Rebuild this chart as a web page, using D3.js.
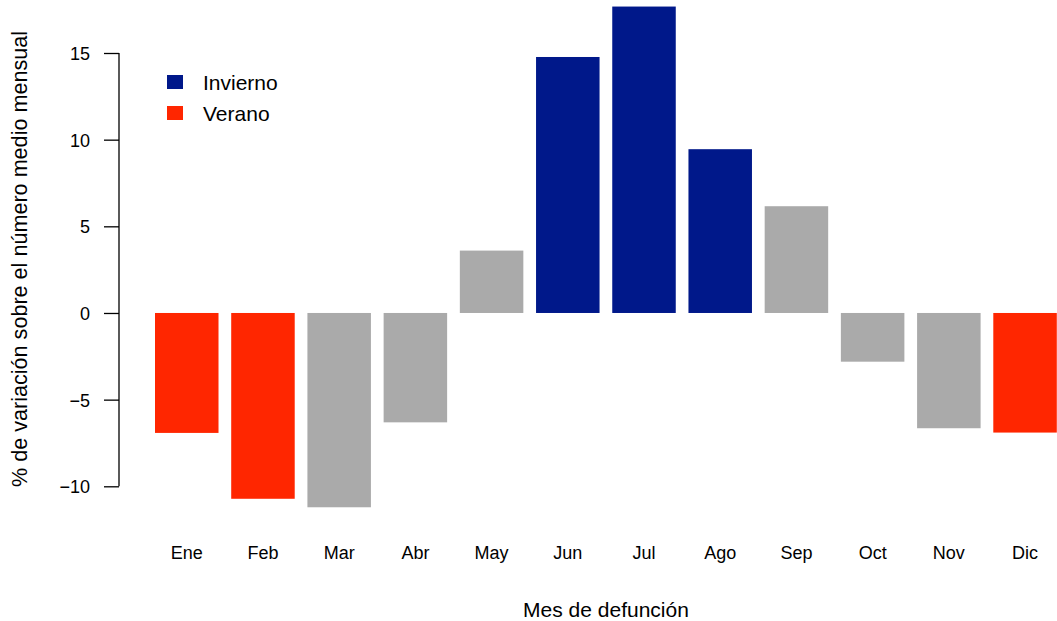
<!DOCTYPE html>
<html>
<head>
<meta charset="utf-8">
<script src="https://cdn.jsdelivr.net/npm/d3@7/dist/d3.min.js"></script>
<style>
  html, body { margin: 0; padding: 0; background: #fff; }
  svg { display: block; font-family: "Liberation Sans", Arial, Helvetica, sans-serif; }
</style>
</head>
<body>
<svg id="chart" width="1057" height="621"></svg>
<script>
const months = ["Ene","Feb","Mar","Abr","May","Jun","Jul","Ago","Sep","Oct","Nov","Dic"];
const values = [-6.92, -10.72, -11.21, -6.31, 3.6, 14.77, 17.68, 9.45, 6.16, -2.81, -6.65, -6.9];
const seasons = ["Verano","Verano","","","","Invierno","Invierno","Invierno","","","","Verano"];
const yTicks = [-10, -5, 0, 5, 10, 15];
const legendLabels = ["Invierno", "Verano"];
const seasonColors = { "Invierno": "#00188A", "Verano": "#FF2600", "": "#AAAAAA" };
const yTitle = "% de variación sobre el número medio mensual";
const xTitle = "Mes de defunción";

const svg = d3.select("#chart");

const x = d3.scaleBand()
  .domain(months)
  .range([155, 1056.8])
  .paddingInner(1/6)
  .paddingOuter(0);

const y = d3.scaleLinear()
  .domain([-10, 15])
  .range([486.3, 53]);

// bars
svg.append("g").selectAll("rect")
  .data(months)
  .join("rect")
  .attr("x", d => x(d))
  .attr("width", x.bandwidth())
  .attr("y", (d, i) => y(Math.max(0, values[i])))
  .attr("height", (d, i) => Math.abs(y(values[i]) - y(0)))
  .attr("fill", (d, i) => seasonColors[seasons[i]]);

// y axis
const yAxis = d3.axisLeft(y).tickValues(yTicks).tickSize(15).tickPadding(12).tickFormat(d3.format("d"));
const gy = svg.append("g").attr("transform", "translate(119,0)").call(yAxis);
gy.select(".domain").attr("d", `M0,${y(-10)}V${y(15)}`).attr("stroke", "#000").attr("stroke-width", 1.3);
gy.selectAll(".tick line").attr("stroke", "#000").attr("stroke-width", 1.3);
gy.selectAll(".tick text").attr("font-size", 18).attr("fill", "#000")
  .attr("font-family", "'Liberation Sans', Arial, sans-serif")
  .attr("x", -29).attr("dy", "0.36em");

// x labels
const xAxis = d3.axisBottom(x).tickSize(0).tickPadding(0);
const gx = svg.append("g").attr("transform", "translate(0,559)").call(xAxis);
gx.select(".domain").remove();
gx.selectAll(".tick text").attr("font-size", 18).attr("fill", "#000")
  .attr("font-family", "'Liberation Sans', Arial, sans-serif")
  .attr("y", 0).attr("dy", 0);

// titles
svg.append("text")
  .attr("x", 606).attr("y", 617)
  .attr("text-anchor", "middle")
  .attr("font-size", 21)
  .text(xTitle);

svg.append("text")
  .attr("transform", "translate(27,259) rotate(-90)")
  .attr("text-anchor", "middle")
  .attr("font-size", 21.6)
  .text(yTitle);

// legend
const lg = svg.append("g");
legendLabels.forEach((lab, i) => {
  const yy = 75 + i * 31;
  lg.append("rect").attr("x", 167).attr("y", yy).attr("width", 16).attr("height", 14)
    .attr("fill", seasonColors[lab]);
  lg.append("text").attr("x", 203).attr("y", yy + 14.5).attr("font-size", 21).text(lab);
});
</script>
</body>
</html>
